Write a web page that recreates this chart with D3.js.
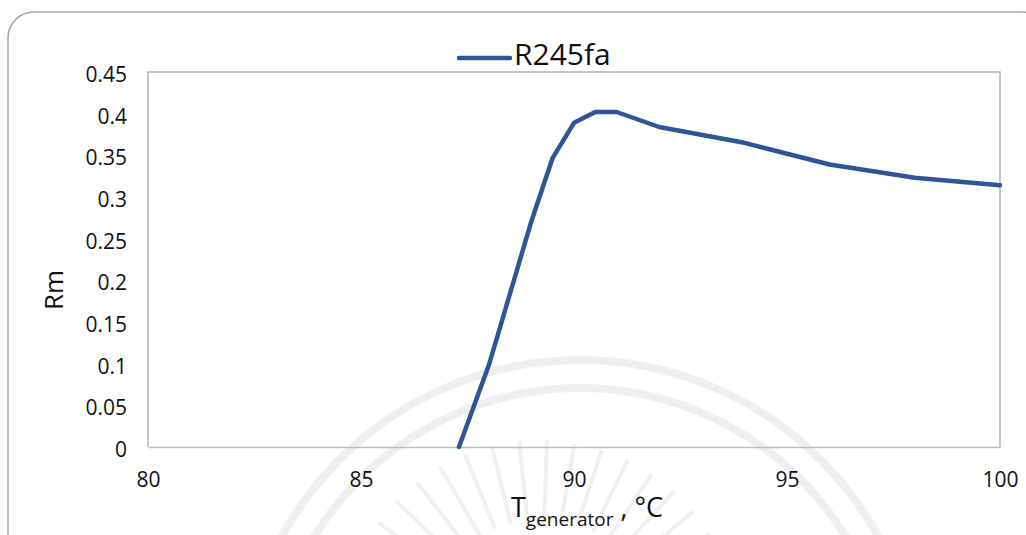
<!DOCTYPE html>
<html>
<head>
<meta charset="utf-8">
<script src="https://cdn.jsdelivr.net/npm/d3@7"></script>
<style>
    body { margin: 0; background: #fff; }
    svg text { font-family: "Open Sans", "Noto Sans", sans-serif; fill: #111; }
</style>
</head>
<body>
<svg id="chart" width="1026" height="535"></svg>
<script>
// data
var series_name = "R245fa";
var t_gen = [87.3, 88, 89, 89.5, 90, 90.5, 91, 92, 94, 96, 98, 100];
var rm = [0, 0.098, 0.271, 0.347, 0.389, 0.402, 0.402, 0.384, 0.365, 0.339, 0.323, 0.314];
var x_ticks = [80, 85, 90, 95, 100];
var y_ticks = [0, 0.05, 0.1, 0.15, 0.2, 0.25, 0.3, 0.35, 0.4, 0.45];

var margin = { left: 148, right: 26, top: 72, bottom: 88 },
    width = 1026, height = 535;

var svg = d3.select("#chart");

// chart frame
svg.append("rect")
    .attr("x", 8).attr("y", 12)
    .attr("width", 1040).attr("height", 560)
    .attr("rx", 26)
    .attr("fill", "none")
    .attr("stroke", "#a6a6a6")
    .attr("stroke-width", 1.5);

// faint watermark arcs
var wm = svg.append("g").attr("fill", "none").attr("stroke", "#efefef").attr("stroke-width", 8);
[340, 312].forEach(function (r) {
    wm.append("path")
        .attr("d", d3.arc()({ innerRadius: r, outerRadius: r, startAngle: -Math.PI / 2, endAngle: Math.PI / 2 }))
        .attr("transform", "translate(580,700)");
});
var rays = wm.append("g").attr("stroke-width", 4).attr("stroke", "#f0f0f0");
d3.range(-70, 71, 8).forEach(function (a) {
    var rad = a * Math.PI / 180;
    rays.append("line")
        .attr("x1", 540 + Math.sin(rad) * 120).attr("y1", 640 - Math.cos(rad) * 120)
        .attr("x2", 540 + Math.sin(rad) * 200).attr("y2", 640 - Math.cos(rad) * 200);
});

var x = d3.scaleLinear().domain([80, 100]).range([margin.left, width - margin.right]);
var y = d3.scaleLinear().domain([0, 0.45]).range([height - margin.bottom, margin.top]);

// plot frame
svg.append("path")
    .attr("d", "M" + x(80) + "," + y(0) + "V" + y(0.45) + "H" + x(100) + "V" + y(0))
    .attr("fill", "none")
    .attr("stroke", "#b3b3b3")
    .attr("stroke-width", 1.5);

var xAxis = svg.append("g")
    .attr("transform", "translate(0," + y(0) + ")")
    .call(d3.axisBottom(x).tickValues(x_ticks).tickSize(0).tickPadding(25));
xAxis.select(".domain").attr("stroke", "#a9d18e").attr("stroke-width", 1.5);
xAxis.selectAll("text").style("font-size", "21px").attr("dy", "0.71em");

var yAxis = svg.append("g")
    .attr("transform", "translate(" + x(80) + ",0)")
    .call(d3.axisLeft(y).tickValues(y_ticks).tickSize(0).tickPadding(21)
        .tickFormat(function (d) { return String(+d.toFixed(2)); }));
yAxis.select(".domain").remove();
yAxis.selectAll("text").style("font-size", "21px").attr("dy", "0.45em");

// series line
var line = d3.line()
    .x(function (d, i) { return x(t_gen[i]); })
    .y(function (d) { return y(d); });

svg.append("path")
    .datum(rm)
    .attr("d", line)
    .attr("fill", "none")
    .attr("stroke", "#2f5597")
    .attr("stroke-width", 4.5)
    .attr("stroke-linejoin", "round")
    .attr("stroke-linecap", "round");

// legend
svg.append("line")
    .attr("x1", 459).attr("x2", 510)
    .attr("y1", 58).attr("y2", 58)
    .attr("stroke", "#2f5597")
    .attr("stroke-width", 4.5)
    .attr("stroke-linecap", "round");
svg.append("text")
    .attr("x", 514).attr("y", 65)
    .style("font-size", "30px")
    .text(series_name);

// axis titles
svg.append("text")
    .attr("transform", "translate(63,290) rotate(-90)")
    .attr("text-anchor", "middle")
    .style("font-size", "26px")
    .text("Rm");

var xt = svg.append("text")
    .attr("x", 587).attr("y", 517)
    .attr("text-anchor", "middle")
    .style("font-size", "27px");
xt.append("tspan").text("T");
xt.append("tspan").attr("dy", 9).style("font-size", "19px").text("generator");
xt.append("tspan").attr("dy", -9).text(" , \u00B0C");
</script>
</body>
</html>
